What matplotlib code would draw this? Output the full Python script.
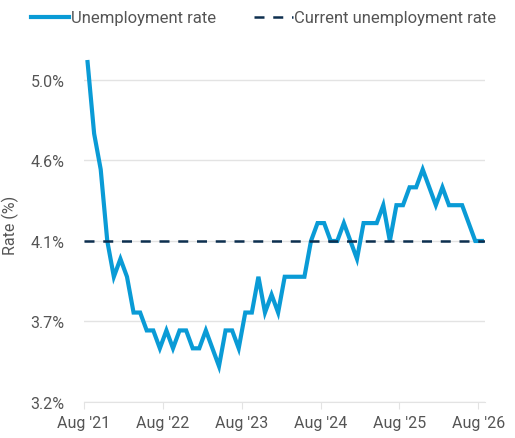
import matplotlib
matplotlib.use("Agg")
import matplotlib.pyplot as plt
import numpy as np

rates = [5.1,4.7,4.5,4.1,3.9,4.0,3.9,3.7,3.7,3.6,3.6,3.5,3.6,3.5,3.6,3.6,3.5,3.5,3.6,3.5,
         3.4,3.6,3.6,3.5,3.7,3.7,3.9,3.7,3.8,3.7,3.9,3.9,3.9,3.9,
         4.1,4.2,4.2,4.1,4.1,4.2,4.1,4.0,4.2,4.2,4.2,4.3,4.1,4.3,4.3,4.4,4.4,4.5,4.4,4.3,
         4.4,4.3,4.3,4.3,4.2,4.1,4.1]
current_rate = 4.1
tick_labels = ["Aug '21", "Aug '22", "Aug '23", "Aug '24", "Aug '25", "Aug '26"]
ytick_vals = [3.2, 3.65, 4.1, 4.55, 5.0]
ytick_labels = ["3.2%", "3.7%", "4.1%", "4.6%", "5.0%"]

plt.rcParams['font.family'] = ['Roboto', 'DejaVu Sans']
fig = plt.figure(figsize=(5.15, 4.39), dpi=100)
ax = fig.add_axes([0.163, 0.082, 0.779, 0.809])
x = np.arange(len(rates))
ax.plot(x, rates, color='#0a9bd6', lw=3, label='Unemployment rate', solid_joinstyle='miter', zorder=3)
ax.axhline(current_rate, color='#0d2f4f', lw=1.8, ls=(0, (4, 3.5)), label='Current unemployment rate', zorder=4)
off = -0.55
ax.set_xlim(off, 60.5)
ax.set_xticks(np.arange(0, 61, 12) + off)
ax.set_xticklabels(tick_labels)
ax.set_yticks(ytick_vals)
ax.set_yticklabels(ytick_labels)
ax.grid(axis='y', color='#e3e3e3', lw=1)
ax.set_axisbelow(True)
for s in ['top', 'right', 'left']:
    ax.spines[s].set_visible(False)
ax.spines['bottom'].set_color('#e3e3e3')
ax.tick_params(axis='x', colors='#e3e3e3', labelcolor='#555555', labelsize=11.5, length=5, pad=4)
ax.tick_params(axis='y', length=0, labelcolor='#555555', labelsize=11.5, pad=14)
ax.set_ylabel('Rate (%)', color='#555555', fontsize=11.5, labelpad=8)
leg = ax.legend(loc='upper left', bbox_to_anchor=(-0.17, 1.145), ncol=2, frameon=False,
                fontsize=12, handlelength=2.3, handletextpad=0.1, columnspacing=2.3, labelcolor='#555555')
fig.savefig('out.png', dpi=100)
